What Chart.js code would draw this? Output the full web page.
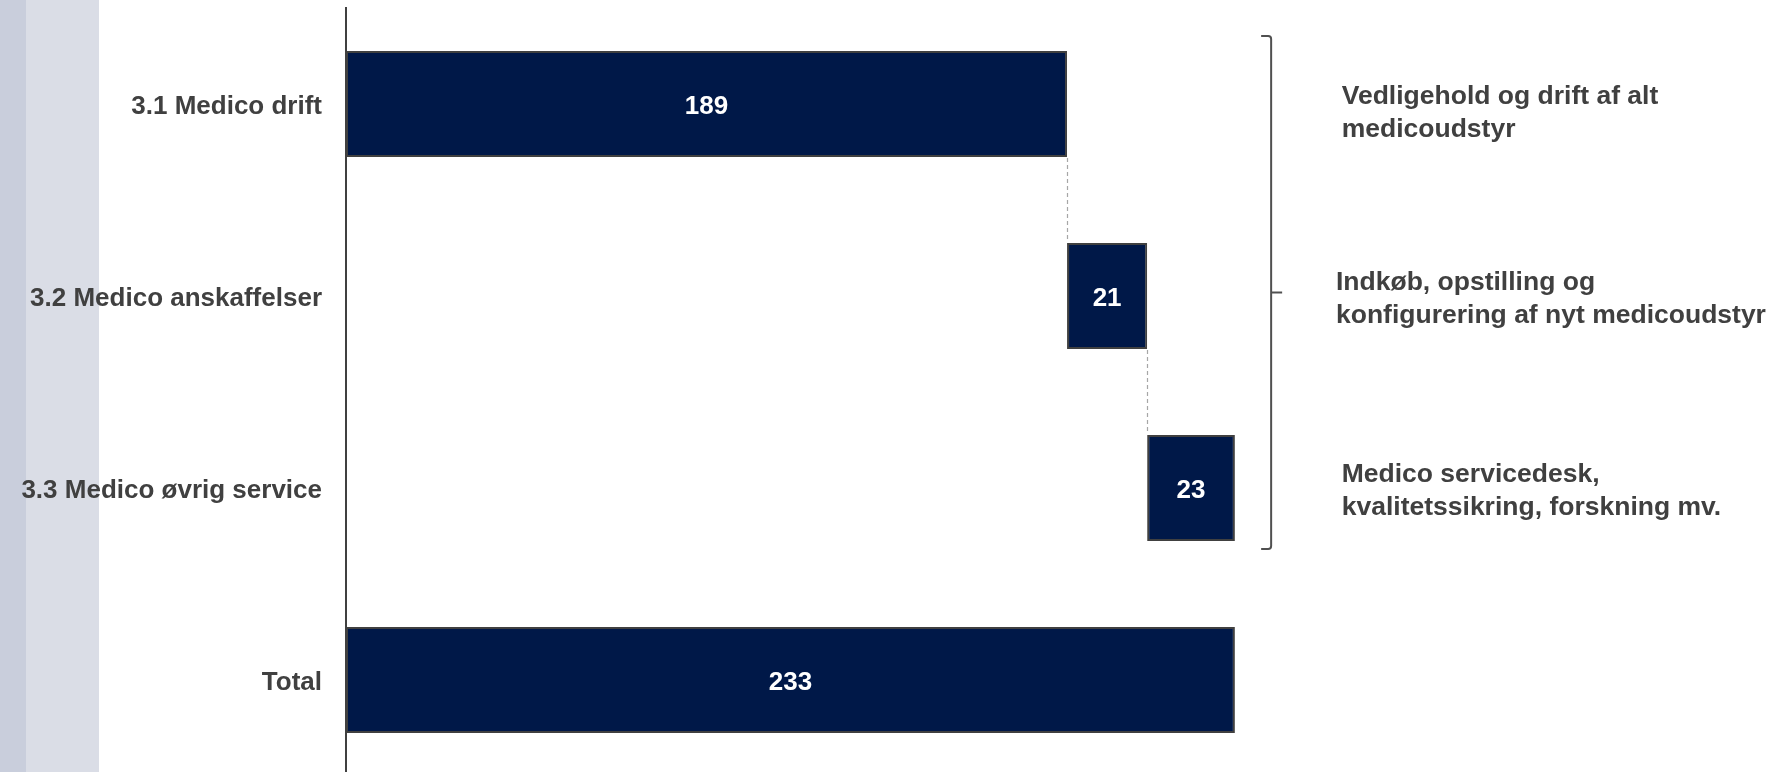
<!DOCTYPE html>
<html>
<head>
<meta charset="utf-8">
<script src="https://cdn.jsdelivr.net/npm/chart.js@4/dist/chart.umd.min.js"></script>
<style>
  html, body { margin: 0; padding: 0; overflow: hidden; width: 1777px; height: 772px;
    background: linear-gradient(to right, #C9CEDC 0px, #C9CEDC 26px, #DADDE6 26px, #DADDE6 99px, #FFFFFF 99px, #FFFFFF 100%); }
  #wrap { position: absolute; left: 0; top: 0; width: 1777px; height: 780px; }
</style>
</head>
<body>
<div id="wrap"><canvas id="c" width="1777" height="780"></canvas></div>
<script>
const categories = ['3.1 Medico drift', '3.2 Medico anskaffelser', '3.3 Medico øvrig service', 'Total'];
const values = [189, 21, 23, 233];
const isTotal = [false, false, false, true];
const notes = [
  ['Vedligehold og drift af alt', 'medicoudstyr'],
  ['Indkøb, opstilling og', 'konfigurering af nyt medicoudstyr'],
  ['Medico servicedesk,', 'kvalitetssikring, forskning mv.']
];
const noteX = [261, 259.5, 261];
const noteDy = [9, 3, 3];
const bracketX = 242.5;

// waterfall ranges built from the values
const ranges = [];
let run = 0;
values.forEach((v, i) => {
  if (isTotal[i]) { ranges.push([0, v]); }
  else { ranges.push([run, run + v]); run += v; }
});

const FONT = '"Liberation Sans", Arial, sans-serif';
const GREY = '#404040';

const extras = {
  id: 'extras',
  afterDatasetsDraw(chart) {
    const ctx = chart.ctx;
    const meta = chart.getDatasetMeta(0);
    const xs = chart.scales.x, ys = chart.scales.y;
    ctx.save();
    // connectors
    ctx.strokeStyle = '#A6A6A6';
    ctx.lineWidth = 1.2;
    ctx.setLineDash([4, 3]);
    for (let i = 0; i < values.length - 2; i++) {
      const a = meta.data[i], b = meta.data[i + 1];
      const x = xs.getPixelForValue(ranges[i][1]);
      ctx.beginPath();
      ctx.moveTo(Math.round(x) + 0.5, a.y + a.height / 2 + 1);
      ctx.lineTo(Math.round(x) + 0.5, b.y - b.height / 2 - 1);
      ctx.stroke();
    }
    ctx.setLineDash([]);
    // data labels
    ctx.fillStyle = '#FFFFFF';
    ctx.font = 'bold 26px ' + FONT;
    ctx.textAlign = 'center';
    ctx.textBaseline = 'middle';
    meta.data.forEach((bar, i) => {
      const cx = (xs.getPixelForValue(ranges[i][0]) + xs.getPixelForValue(ranges[i][1])) / 2;
      ctx.fillText(String(values[i]), cx, bar.y + 3);
    });
    // bracket
    const b0 = meta.data[0], b2 = meta.data[2];
    const top = b0.y - b0.height / 2 - 15;
    const bot = b2.y + b2.height / 2 + 8;
    const mid = (top + bot) / 2;
    const bx = xs.getPixelForValue(bracketX);
    ctx.strokeStyle = '#505050';
    ctx.lineWidth = 2;
    ctx.beginPath();
    ctx.moveTo(bx - 10, top);
    ctx.lineTo(bx - 3, top);
    ctx.quadraticCurveTo(bx, top, bx, top + 3);
    ctx.lineTo(bx, bot - 3);
    ctx.quadraticCurveTo(bx, bot, bx - 3, bot);
    ctx.lineTo(bx - 10, bot);
    ctx.stroke();
    ctx.beginPath();
    ctx.moveTo(bx, mid);
    ctx.lineTo(bx + 11, mid);
    ctx.stroke();
    // notes
    ctx.fillStyle = GREY;
    ctx.font = 'bold 26.5px ' + FONT;
    ctx.textAlign = 'left';
    ctx.textBaseline = 'middle';
    notes.forEach((lines, i) => {
      const cy = ys.getPixelForValue(i) + noteDy[i];
      const lh = 33.5;
      const x = xs.getPixelForValue(noteX[i]);
      lines.forEach((t, j) => {
        ctx.fillText(t, x, cy + (j - (lines.length - 1) / 2) * lh);
      });
    });
    ctx.restore();
  }
};

new Chart(document.getElementById('c'), {
  type: 'bar',
  data: {
    labels: categories,
    datasets: [{
      data: ranges,
      backgroundColor: '#001848',
      borderColor: GREY,
      borderWidth: 2,
      borderSkipped: false,
      barPercentage: 0.552,
      categoryPercentage: 1.0
    }]
  },
  options: {
    indexAxis: 'y',
    responsive: false,
    animation: false,
    events: [],
    layout: { padding: { top: 8, bottom: 4, left: 0, right: 286.5 } },
    plugins: { legend: { display: false }, tooltip: { enabled: false } },
    scales: {
      x: { display: false, min: 0, max: 300 },
      y: {
        grid: { display: false, drawTicks: false },
        border: { display: true, color: GREY, width: 2 },
        ticks: { color: GREY, font: { family: FONT, size: 26, weight: 'bold' }, padding: 24, labelOffset: 3 },
        afterFit(scale) { scale.width = 346; scale.paddingTop = 0; scale.paddingBottom = 0; }
      }
    }
  },
  plugins: [extras]
});
</script>
</body>
</html>
